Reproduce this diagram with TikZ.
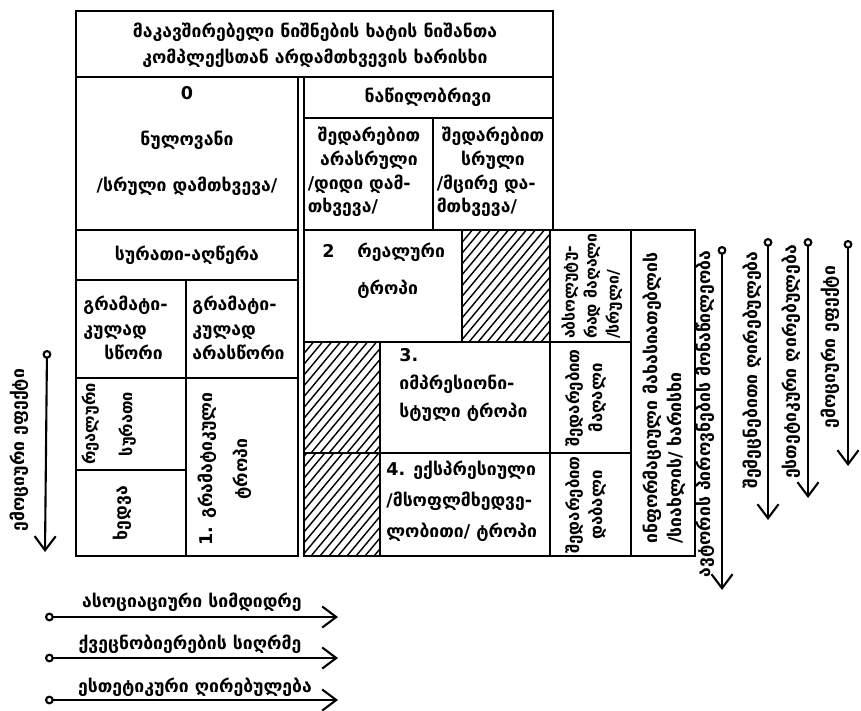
\documentclass[tikz,border=0pt]{standalone}
\usepackage{fontspec}
\setmainfont{DejaVu Sans}
\usetikzlibrary{arrows.meta}

\begin{document}
\begin{tikzpicture}[x=0.02cm,y=-0.02cm,
		cell/.style={draw,line width=1.6pt},
		txt/.style={font=\fontsize{10}{14}\selectfont\bfseries,inner sep=0pt,align=center},
		vtxt/.style={txt,rotate=90},
		meter/.style={line width=1.2pt,{Circle[open,length=5pt,width=5pt]}-{Straight Barb[length=8pt,width=12pt]}}]
		\useasboundingbox (0,0) rectangle (861,710);
		% title
		\draw[cell] (76,11) rectangle (553,77);
		\node[txt,font=\fontsize{10}{15}\selectfont\bfseries] (title) at (315,45) {მაკავშირებელი ნიშნების ხატის ნიშანთა\\კომპლექსთან არდამთხვევის ხარისხი};
		% left part
		\draw[cell] (76,77) rectangle (298,230);
		\draw[cell] (76,230) rectangle (298,280);
		\draw[cell] (76,280) rectangle (186,378);
		\draw[cell] (186,280) rectangle (298,378);
		\draw[cell] (76,378) rectangle (186,470);
		\draw[cell] (76,470) rectangle (186,556);
		\draw[cell] (186,378) rectangle (298,556);
		\draw[line width=1.2pt] (298,77) -- (298,556) (304,77) -- (304,556);
		% right part
		\draw[cell] (304,77) rectangle (553,118);
		\draw[cell] (304,118) rectangle (433,230);
		\draw[cell] (433,118) rectangle (553,230);
		\draw[cell] (304,230) rectangle (462,342);
		\draw[cell] (462,230) rectangle (550,342);
		\draw[cell] (304,342) rectangle (380,453);
		\draw[cell] (304,453) rectangle (380,556);
		\draw[cell] (380,342) rectangle (550,453);
		\draw[cell] (380,453) rectangle (550,556);
		\draw[cell] (550,230) rectangle (631,342);
		\draw[cell] (550,342) rectangle (631,453);
		\draw[cell] (550,453) rectangle (631,556);
		\draw[cell] (631,230) rectangle (695,556);
		% hatching
		\foreach \xa/\ya/\xb/\yb in {462/230/550/342,304/342/380/453,304/453/380/556}{
			\begin{scope}
				\clip (\xa,\ya) rectangle (\xb,\yb);
				\foreach \k in {-110,-101,...,100}
				\draw[line width=0.8pt] (\xa+\k,\yb) -- ++(100,-120);
			\end{scope}
		}
		% cell texts
		\node[txt,font=\fontsize{10}{26}\selectfont\bfseries] (nul) at (187,141) {0\\ნულოვანი\\/სრული დამთხვევა/};
		\node[txt] (nats) at (428,97) {ნაწილობრივი};
		\node[txt,font=\fontsize{10}{13.5}\selectfont\bfseries,text width=2.45cm,align=left] (didi) at (369,172)
		{\makebox[\linewidth]{შედარებით}\\\makebox[\linewidth]{არასრული}\\/დიდი დამ-\\თხვევა/};
		\node[txt,font=\fontsize{10}{13.5}\selectfont\bfseries,text width=2.25cm,align=left] (mtsire) at (493,172)
		{\makebox[\linewidth]{შედარებით}\\\makebox[\linewidth]{სრული}\\/მცირე და-\\მთხვევა/};
		\node[txt] (surati) at (187,255) {სურათი-აღწერა};
		\node[txt,align=left,anchor=west] (sts) at (83,328)
		{გრამატი-\\კულად\\\hspace*{1.2em}სწორი};
		\node[txt,align=left,anchor=west] (arasts) at (192,328)
		{გრამატი-\\კულად\\არასწორი};
		\node[vtxt,font=\fontsize{9.3}{21}\selectfont\bfseries] (realsur) at (109,424) {რეალური\\სურათი};
		\node[vtxt] (khedva) at (122,513) {ხედვა};
		\node[vtxt,font=\fontsize{10}{20}\selectfont\bfseries] (gramtr) at (225,469) {1. გრამატიკული\\ტროპი};
		\node[txt,font=\fontsize{10}{21}\selectfont\bfseries,align=left,anchor=west] (realtr) at (322,271)
		{2\hspace{1.3em}რეალური\\\phantom{2\hspace{1.3em}}ტროპი};
		\node[txt,font=\fontsize{10}{16}\selectfont\bfseries,align=left,anchor=west] (impr) at (399,385)
		{3.\\იმპრესიონი-\\სტული ტროპი};
		\node[txt,font=\fontsize{10}{17.5}\selectfont\bfseries,align=left,anchor=west] (expr) at (386,501)
		{4. ექსპრესიული\\/მსოფლმხედვე-\\ლობითი/ ტროპი};
		\node[vtxt,font=\fontsize{9}{12.5}\selectfont\bfseries,align=left] (absol) at (592,286)
		{აბსოლუტუ-\\რად მაღალი\\/სრული/};
		\node[vtxt,font=\fontsize{9.5}{13.5}\selectfont\bfseries] (shmag) at (586,398) {შედარებით\\მაღალი};
		\node[vtxt,font=\fontsize{9.5}{13.5}\selectfont\bfseries] (shdab) at (586,505) {შედარებით\\დაბალი};
		\node[vtxt,font=\fontsize{10}{14}\selectfont\bfseries,align=left] (inform) at (664,398)
		{ინფორმაციული მახასიათებლის\\/სიახლის/ ხარისხი};
		% right scales
		\coordinate (r1s) at (722,246); \coordinate (r1e) at (722,590);
		\coordinate (r2s) at (768,238); \coordinate (r2e) at (768,520);
		\coordinate (r3s) at (808,238); \coordinate (r3e) at (808,498);
		\coordinate (r4s) at (848,240); \coordinate (r4e) at (848,466);
		\draw[meter] (r1s) -- (r1e);
		\draw[meter] (r2s) -- (r2e);
		\draw[meter] (r3s) -- (r3e);
		\draw[meter] (r4s) -- (r4e);
		\node[vtxt] (avtori) at (705,414) {ავტორის პიროვნების მონაწილეობა};
		\node[vtxt] (shemets) at (752,370) {შემეცნებითი ღირებულება};
		\node[vtxt] (estet) at (791,362) {ესთეტიკური ღირებულება};
		\node[vtxt] (emots) at (830,347) {ემოციური ეფექტი};
		% left scale
		\coordinate (ls) at (47,350); \coordinate (le) at (45,552);
		\draw[meter] (ls) -- (le);
		\node[vtxt] (emots2) at (19,450) {ემოციური ეფექტი};
		% bottom scales
		\coordinate (b1s) at (45,617); \coordinate (b1e) at (338,617);
		\coordinate (b2s) at (45,658); \coordinate (b2e) at (338,658);
		\coordinate (b3s) at (45,700); \coordinate (b3e) at (338,700);
		\draw[meter] (b1s) -- (b1e);
		\draw[meter] (b2s) -- (b2e);
		\draw[meter] (b3s) -- (b3e);
		\node[txt] (asots) at (192,602) {ასოციაციური სიმდიდრე};
		\node[txt] (kavsh) at (190,644) {ქვეცნობიერების სიღრმე};
		\node[txt] (etik) at (195,687) {ესთეტიკური ღირებულება};
\end{tikzpicture}
\end{document}
